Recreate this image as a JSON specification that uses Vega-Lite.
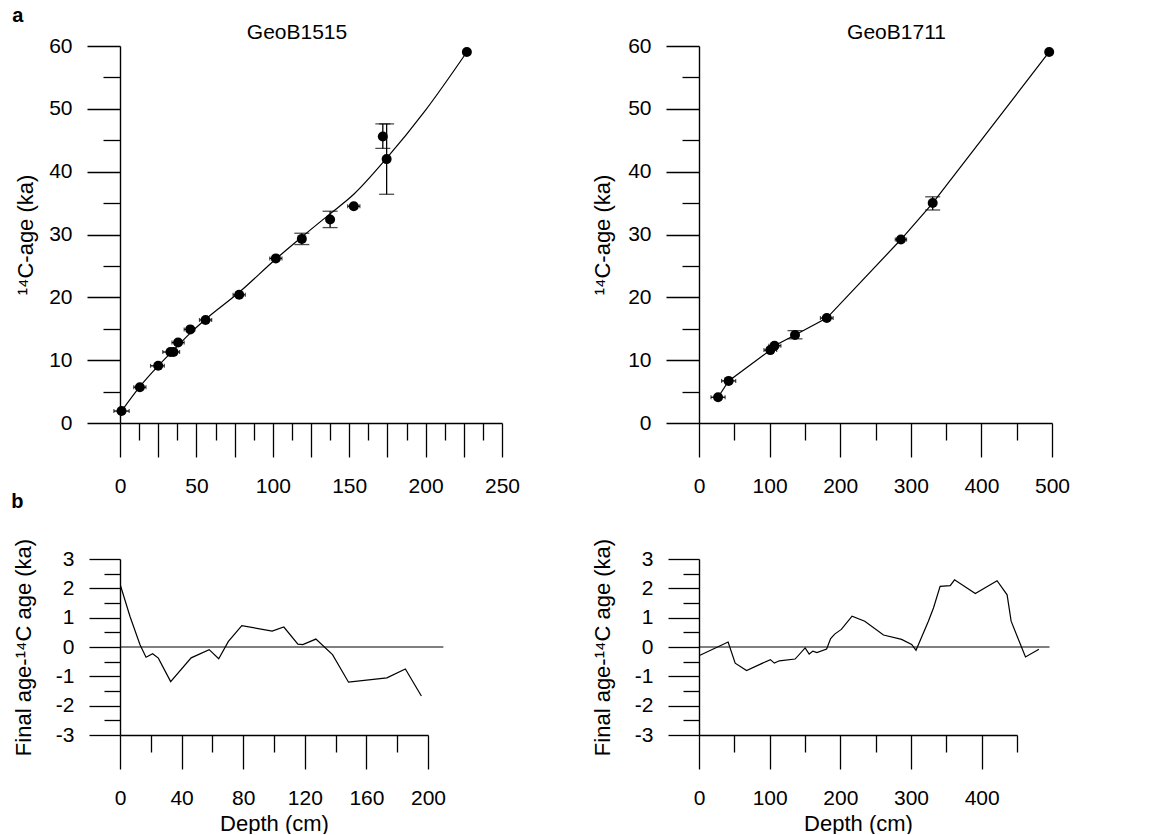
{
  "$schema": "https://vega.github.io/schema/vega-lite/v6.json",
  "background": "white",
  "padding": {"left": 11, "top": 6, "right": 5, "bottom": 0},
  "title": {"text": "a", "anchor": "start", "frame": "bounds", "fontSize": 20, "fontWeight": "bold", "offset": -4, "dx": 1},
  "datasets": {
    "tl_curve": [
      {"depth": 1, "age": 1.9}, {"depth": 13, "age": 5.8}, {"depth": 25, "age": 9.1}, {"depth": 35, "age": 11.6},
      {"depth": 46, "age": 14.3}, {"depth": 56, "age": 16.5}, {"depth": 78, "age": 20.8}, {"depth": 102, "age": 26.1},
      {"depth": 119, "age": 29.6}, {"depth": 137, "age": 33.2}, {"depth": 153, "age": 36.4}, {"depth": 174, "age": 42.0},
      {"depth": 200, "age": 49.8}, {"depth": 227, "age": 59.05}
    ],
    "tl_pts": [
      {"depth": 1, "age": 1.9}, {"depth": 13, "age": 5.7}, {"depth": 25, "age": 9.1}, {"depth": 33, "age": 11.3},
      {"depth": 35, "age": 11.3}, {"depth": 38, "age": 12.8}, {"depth": 46, "age": 14.9}, {"depth": 56, "age": 16.4},
      {"depth": 78, "age": 20.4}, {"depth": 102, "age": 26.2}, {"depth": 119, "age": 29.3}, {"depth": 137.5, "age": 32.4},
      {"depth": 153, "age": 34.5}, {"depth": 172, "age": 45.6}, {"depth": 174.5, "age": 42.0}, {"depth": 227, "age": 59.05}
    ],
    "tl_hbars": [
      {"depth": -4, "depth2": 6, "age": 1.9}, {"depth": 9, "depth2": 17, "age": 5.7}, {"depth": 20, "depth2": 29, "age": 9.1},
      {"depth": 28, "depth2": 39, "age": 11.3}, {"depth": 34, "depth2": 42, "age": 12.8}, {"depth": 42, "depth2": 49, "age": 14.9},
      {"depth": 52, "depth2": 60, "age": 16.4}, {"depth": 74, "depth2": 82, "age": 20.4}, {"depth": 98, "depth2": 106, "age": 26.2},
      {"depth": 149, "depth2": 157, "age": 34.5}
    ],
    "tl_hcaps": [
      {"depth": -4, "age": 1.9}, {"depth": 6, "age": 1.9}, {"depth": 9, "age": 5.7}, {"depth": 17, "age": 5.7},
      {"depth": 20, "age": 9.1}, {"depth": 29, "age": 9.1}, {"depth": 28, "age": 11.3}, {"depth": 39, "age": 11.3},
      {"depth": 34, "age": 12.8}, {"depth": 42, "age": 12.8}, {"depth": 42, "age": 14.9}, {"depth": 49, "age": 14.9},
      {"depth": 52, "age": 16.4}, {"depth": 60, "age": 16.4}, {"depth": 74, "age": 20.4}, {"depth": 82, "age": 20.4},
      {"depth": 98, "age": 26.2}, {"depth": 106, "age": 26.2}, {"depth": 149, "age": 34.5}, {"depth": 157, "age": 34.5}
    ],
    "tl_vbars": [
      {"depth": 119, "age": 28.4, "age2": 30.2}, {"depth": 137.5, "age": 31.1, "age2": 33.7},
      {"depth": 172, "age": 43.7, "age2": 47.6}, {"depth": 174.5, "age": 36.4, "age2": 47.6}
    ],
    "tl_caps": [
      {"depth": 119, "age": 28.4}, {"depth": 119, "age": 30.2},
      {"depth": 137.5, "age": 31.1}, {"depth": 137.5, "age": 33.7}, {"depth": 172, "age": 43.7}, {"depth": 172, "age": 47.6},
      {"depth": 174.5, "age": 36.4}, {"depth": 174.5, "age": 47.6}
    ],
    "tr_pts": [
      {"depth": 27, "age": 4.1}, {"depth": 42, "age": 6.7}, {"depth": 101, "age": 11.6}, {"depth": 107, "age": 12.3},
      {"depth": 136, "age": 14.0}, {"depth": 181, "age": 16.7}, {"depth": 286, "age": 29.2}, {"depth": 331, "age": 35.0},
      {"depth": 496, "age": 59.05}
    ],
    "tr_hbars": [
      {"depth": 17, "depth2": 37, "age": 4.1}, {"depth": 32, "depth2": 52, "age": 6.7}, {"depth": 92, "depth2": 110, "age": 11.6},
      {"depth": 99, "depth2": 116, "age": 12.3}, {"depth": 172, "depth2": 190, "age": 16.7}, {"depth": 278, "depth2": 294, "age": 29.2}
    ],
    "tr_hcaps": [
      {"depth": 17, "age": 4.1}, {"depth": 37, "age": 4.1}, {"depth": 32, "age": 6.7}, {"depth": 52, "age": 6.7},
      {"depth": 92, "age": 11.6}, {"depth": 110, "age": 11.6}, {"depth": 99, "age": 12.3}, {"depth": 116, "age": 12.3},
      {"depth": 172, "age": 16.7}, {"depth": 190, "age": 16.7}, {"depth": 278, "age": 29.2}, {"depth": 294, "age": 29.2}
    ],
    "tr_vbars": [
      {"depth": 136, "age": 13.4, "age2": 14.7}, {"depth": 331, "age": 33.9, "age2": 36.0}
    ],
    "tr_caps": [
      {"depth": 136, "age": 13.4}, {"depth": 136, "age": 14.7}, {"depth": 331, "age": 33.9}, {"depth": 331, "age": 36.0}
    ],
    "bl_line": [
      {"depth": 0.4, "diff": 2.08}, {"depth": 6.5, "diff": 1.04}, {"depth": 13, "diff": 0.08}, {"depth": 16.9, "diff": -0.35},
      {"depth": 21.2, "diff": -0.23}, {"depth": 24.9, "diff": -0.38}, {"depth": 32.9, "diff": -1.18}, {"depth": 46.2, "diff": -0.37},
      {"depth": 57.9, "diff": -0.09}, {"depth": 64.1, "diff": -0.4}, {"depth": 70.4, "diff": 0.19}, {"depth": 79.1, "diff": 0.73},
      {"depth": 98.8, "diff": 0.54}, {"depth": 106.4, "diff": 0.68}, {"depth": 115.5, "diff": 0.1}, {"depth": 118.7, "diff": 0.08},
      {"depth": 127.2, "diff": 0.27}, {"depth": 138, "diff": -0.26}, {"depth": 148.4, "diff": -1.2}, {"depth": 173.3, "diff": -1.05},
      {"depth": 185.3, "diff": -0.75}, {"depth": 195.7, "diff": -1.67}
    ],
    "bl_zero": [{"depth": 0, "depth2": 210, "diff": 0}],
    "br_line": [
      {"depth": 1.4, "diff": -0.28}, {"depth": 41.2, "diff": 0.17}, {"depth": 51.2, "diff": -0.55}, {"depth": 67.3, "diff": -0.8},
      {"depth": 101, "diff": -0.43}, {"depth": 106.6, "diff": -0.55}, {"depth": 113.7, "diff": -0.47}, {"depth": 136, "diff": -0.41},
      {"depth": 150.2, "diff": -0.03}, {"depth": 155.9, "diff": -0.24}, {"depth": 161.1, "diff": -0.14}, {"depth": 166.8, "diff": -0.19},
      {"depth": 180.6, "diff": -0.07}, {"depth": 186.3, "diff": 0.29}, {"depth": 192, "diff": 0.44}, {"depth": 201.4, "diff": 0.6},
      {"depth": 216.6, "diff": 1.05}, {"depth": 234.6, "diff": 0.88}, {"depth": 261.1, "diff": 0.41}, {"depth": 286.7, "diff": 0.26},
      {"depth": 300.9, "diff": 0.09}, {"depth": 307.1, "diff": -0.11}, {"depth": 324.6, "diff": 0.88}, {"depth": 331.8, "diff": 1.33},
      {"depth": 341.2, "diff": 2.07}, {"depth": 355.5, "diff": 2.09}, {"depth": 361.6, "diff": 2.29}, {"depth": 391, "diff": 1.82},
      {"depth": 421.8, "diff": 2.26}, {"depth": 436, "diff": 1.78}, {"depth": 441.7, "diff": 0.88}, {"depth": 462, "diff": -0.34},
      {"depth": 481, "diff": -0.08}
    ],
    "br_zero": [{"depth": 0, "depth2": 496, "diff": 0}]
  },
  "columns": 2,
  "align": "each",
  "spacing": {"row": -4, "column": 71},
  "concat": [
    {
      "width": 382, "height": 377,
      "title": {"text": "GeoB1515", "frame": "group", "dx": -14, "offset": -8, "fontSize": 21, "fontWeight": "normal"},
      "encoding": {
        "x": {"field": "depth", "type": "quantitative", "scale": {"domain": [0, 250], "nice": false, "zero": false},
          "axis": {"title": null, "values": [0, 12.5, 25, 37.5, 50, 62.5, 75, 87.5, 100, 112.5, 125, 137.5, 150, 162.5, 175, 187.5, 200, 212.5, 225, 237.5, 250],
            "tickSize": {"condition": {"test": "datum.value % 25 === 0", "value": 34}, "value": 17},
            "labelExpr": "datum.value % 50 === 0 ? datum.label : ''"}},
        "y": {"field": "age", "type": "quantitative", "scale": {"domain": [0, 60], "nice": false, "zero": false},
          "axis": {"title": "¹⁴C-age (ka)", "titlePadding": 11, "values": [0, 5, 10, 15, 20, 25, 30, 35, 40, 45, 50, 55, 60],
            "tickSize": {"condition": {"test": "datum.value % 10 === 0", "value": 33}, "value": 17},
            "labelExpr": "datum.value % 10 === 0 ? datum.label : ''"}}
      },
      "layer": [
        {"data": {"name": "tl_curve"}, "mark": {"type": "line", "interpolate": "monotone", "color": "black", "strokeWidth": 1.2}},
        {"data": {"name": "tl_hbars"}, "mark": {"type": "rule", "color": "black", "strokeWidth": 1.3}, "encoding": {"x2": {"field": "depth2"}}},
        {"data": {"name": "tl_hcaps"}, "mark": {"type": "tick", "orient": "vertical", "color": "black", "size": 4, "thickness": 1.2}},
        {"data": {"name": "tl_vbars"}, "mark": {"type": "rule", "color": "black", "strokeWidth": 1.3}, "encoding": {"y2": {"field": "age2"}}},
        {"data": {"name": "tl_caps"}, "mark": {"type": "tick", "orient": "horizontal", "color": "black", "size": 15, "thickness": 1.3}},
        {"data": {"name": "tl_pts"}, "mark": {"type": "point", "filled": true, "color": "black", "size": 100, "opacity": 1}}
      ]
    },
    {
      "width": 353, "height": 377,
      "title": {"text": "GeoB1711", "frame": "group", "dx": 21, "offset": -8, "fontSize": 21, "fontWeight": "normal"},
      "encoding": {
        "x": {"field": "depth", "type": "quantitative", "scale": {"domain": [0, 500], "nice": false, "zero": false},
          "axis": {"title": null, "values": [0, 50, 100, 150, 200, 250, 300, 350, 400, 450, 500],
            "tickSize": {"condition": {"test": "datum.value % 100 === 0", "value": 34}, "value": 17},
            "labelExpr": "datum.value % 100 === 0 ? datum.label : ''"}},
        "y": {"field": "age", "type": "quantitative", "scale": {"domain": [0, 60], "nice": false, "zero": false},
          "axis": {"title": "¹⁴C-age (ka)", "titlePadding": 13, "values": [0, 5, 10, 15, 20, 25, 30, 35, 40, 45, 50, 55, 60],
            "tickSize": {"condition": {"test": "datum.value % 10 === 0", "value": 33}, "value": 17},
            "labelExpr": "datum.value % 10 === 0 ? datum.label : ''"}}
      },
      "layer": [
        {"data": {"name": "tr_pts"}, "mark": {"type": "line", "color": "black", "strokeWidth": 1.2}},
        {"data": {"name": "tr_hbars"}, "mark": {"type": "rule", "color": "black", "strokeWidth": 1.3}, "encoding": {"x2": {"field": "depth2"}}},
        {"data": {"name": "tr_hcaps"}, "mark": {"type": "tick", "orient": "vertical", "color": "black", "size": 4, "thickness": 1.2}},
        {"data": {"name": "tr_vbars"}, "mark": {"type": "rule", "color": "black", "strokeWidth": 1.3}, "encoding": {"y2": {"field": "age2"}}},
        {"data": {"name": "tr_caps"}, "mark": {"type": "tick", "orient": "horizontal", "color": "black", "size": 15, "thickness": 1.3}},
        {"data": {"name": "tr_pts"}, "mark": {"type": "point", "filled": true, "color": "black", "size": 100, "opacity": 1}}
      ]
    },
    {
      "width": 308, "height": 176,
      "title": {"text": "b", "anchor": "start", "frame": "bounds", "fontSize": 20, "fontWeight": "bold", "offset": 26, "dx": -1},
      "encoding": {
        "x": {"field": "depth", "type": "quantitative", "scale": {"domain": [0, 200], "nice": false, "zero": false},
          "axis": {"title": "Depth (cm)", "values": [0, 20, 40, 60, 80, 100, 120, 140, 160, 180, 200],
            "tickSize": {"condition": {"test": "datum.value % 40 === 0", "value": 34}, "value": 17},
            "labelExpr": "datum.value % 40 === 0 ? datum.label : ''"}},
        "y": {"field": "diff", "type": "quantitative", "scale": {"domain": [-3, 3], "nice": false, "zero": false},
          "axis": {"title": "Final age-¹⁴C age (ka)", "titlePadding": 20, "values": [-3, -2.5, -2, -1.5, -1, -0.5, 0, 0.5, 1, 1.5, 2, 2.5, 3],
            "tickSize": {"condition": {"test": "datum.value % 1 === 0", "value": 31}, "value": 16},
            "labelExpr": "datum.value % 1 === 0 ? (datum.value < 0 ? '-' + abs(datum.value) : '' + datum.value) : ''"}}
      },
      "layer": [
        {"data": {"name": "bl_zero"}, "mark": {"type": "rule", "color": "black", "strokeWidth": 1.2}, "encoding": {"x2": {"field": "depth2"}}},
        {"data": {"name": "bl_line"}, "mark": {"type": "line", "color": "black", "strokeWidth": 1.2}}
      ]
    },
    {
      "width": 318, "height": 176,
      "encoding": {
        "x": {"field": "depth", "type": "quantitative", "scale": {"domain": [0, 450], "nice": false, "zero": false},
          "axis": {"title": "Depth (cm)", "values": [0, 50, 100, 150, 200, 250, 300, 350, 400, 450],
            "tickSize": {"condition": {"test": "datum.value % 100 === 0", "value": 34}, "value": 17},
            "labelExpr": "datum.value % 100 === 0 ? datum.label : ''"}},
        "y": {"field": "diff", "type": "quantitative", "scale": {"domain": [-3, 3], "nice": false, "zero": false},
          "axis": {"title": "Final age-¹⁴C age (ka)", "titlePadding": 20, "values": [-3, -2.5, -2, -1.5, -1, -0.5, 0, 0.5, 1, 1.5, 2, 2.5, 3],
            "tickSize": {"condition": {"test": "datum.value % 1 === 0", "value": 31}, "value": 16},
            "labelExpr": "datum.value % 1 === 0 ? (datum.value < 0 ? '-' + abs(datum.value) : '' + datum.value) : ''"}}
      },
      "layer": [
        {"data": {"name": "br_zero"}, "mark": {"type": "rule", "color": "black", "strokeWidth": 1.2}, "encoding": {"x2": {"field": "depth2"}}},
        {"data": {"name": "br_line"}, "mark": {"type": "line", "color": "black", "strokeWidth": 1.2}}
      ]
    }
  ],
  "config": {
    "font": "Liberation Sans",
    "view": {"stroke": null},
    "axis": {"grid": false, "domainColor": "#000", "domainWidth": 1.4, "tickColor": "#000", "tickWidth": 1.3,
      "labelColor": "#000", "labelFont": "Liberation Sans", "labelFontSize": 21, "titleFont": "Liberation Sans",
      "titleFontSize": 22, "titleFontWeight": "normal", "titleColor": "#000", "labelOverlap": false, "labelFlush": false, "labelBound": false},
    "axisX": {"labelPadding": 18, "titlePadding": 5},
    "axisY": {"labelPadding": 15, "titlePadding": 11},
    "title": {"font": "Liberation Sans", "color": "#000"}
  }
}
